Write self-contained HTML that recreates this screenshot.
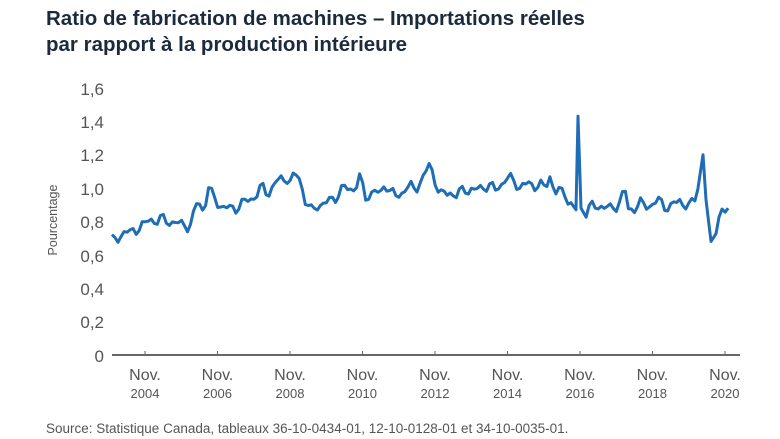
<!DOCTYPE html>
<html><head><meta charset="utf-8"><style>
body{margin:0;background:#fff;width:780px;height:439px;overflow:hidden;font-family:"Liberation Sans",sans-serif}
</style></head><body>
<svg width="780" height="439" xmlns="http://www.w3.org/2000/svg" style="position:absolute;left:0;top:0">
<text x="46" y="25" font-size="20.5" font-weight="bold" fill="#1c2a3d">Ratio de fabrication de machines – Importations réelles</text>
<text x="46" y="51" font-size="20.5" font-weight="bold" fill="#1c2a3d">par rapport à la production intérieure</text>
<g font-size="17" fill="#555" text-anchor="end">
<text x="104" y="95">1,6</text><text x="104" y="128">1,4</text><text x="104" y="161">1,2</text>
<text x="104" y="195">1,0</text><text x="104" y="228">0,8</text><text x="104" y="262">0,6</text>
<text x="104" y="295">0,4</text><text x="104" y="328">0,2</text><text x="104" y="362">0</text>
</g>
<text transform="translate(57,220) rotate(-90)" font-size="12.5" fill="#555" text-anchor="middle">Pourcentage</text>
<line x1="112" y1="355" x2="740" y2="355" stroke="#666" stroke-width="2"/>
<g id="ticks" stroke="#666" stroke-width="1"></g>
<g id="xl" fill="#555" text-anchor="middle"></g>
<polyline id="ln" fill="none" stroke="#1f6db5" stroke-width="3" stroke-linejoin="round"/>
<text x="46" y="433" font-size="13.5" fill="#555">Source: Statistique Canada, tableaux 36-10-0434-01, 12-10-0128-01 et 34-10-0035-01.</text>
</svg>
<script>
var yrs=[2004,2006,2008,2010,2012,2014,2016,2018,2020],t='',l='';
yrs.forEach(function(y,i){var x=145+i*72.5;t+='<line x1="'+x+'" y1="351" x2="'+x+'" y2="355"/>';
l+='<text x="'+x+'" y="380" font-size="16">Nov.</text><text x="'+x+'" y="398" font-size="13">'+y+'</text>';});
document.getElementById('ticks').innerHTML=t;document.getElementById('xl').innerHTML=l;
var k=[[112,.68],[118,.7],[125,.75],[130,.72],[138,.77],[145,.78],[150,.81],[160,.81],[170,.8],[175,.8],[180,.77],[185,.79],[190,.77],[195,.86],[198,.94],[201,.87],[205,.88],[207,1.03],[212,.95],[220,.9],[230,.87],[240,.9],[250,.93],[257,.97],[262,1.0],[268,.97],[275,1.03],[282,1.05],[287,1.07],[291,1.03],[295,1.08],[300,1.06],[305,.93],[312,.85],[318,.91],[325,.9],[335,.95],[345,1.0],[355,1.0],[360,1.06],[365,.95],[375,.98],[380,.95],[385,1.05],[390,.97],[398,.95],[405,1.0],[415,1.0],[422,1.05],[430,1.14],[435,1.06],[440,.95],[450,.98],[457,.95],[465,1.0],[475,.98],[485,1.02],[495,.99],[505,1.05],[515,1.05],[520,1.0],[530,1.03],[545,1.0],[550,1.08],[555,.97],[565,.98],[570,.9],[574,.88],[576,.87],[578,1.43],[581,.88],[585,.85],[590,.88],[600,.9],[610,.87],[620,.92],[625,.99],[628,.87],[640,.9],[650,.9],[660,.92],[670,.88],[680,.93],[690,.88],[695,.94],[700,1.08],[703,1.2],[706,.93],[709,.9],[711,.68],[720,.84],[725,.85],[731,.91]];
var spikes=[[576,.87],[578,1.43],[581,.88],[700,1.08],[703,1.2],[706,.93],[711,.68]];
var arr=[],i=0;
for(var x=112;x<=731;x+=3.02){
 if((x>573&&x<584)||(x>698&&x<713))continue;
 while(i<k.length-2&&k[i+1][0]<x)i++;var a=k[i],b=k[i+1];var f=(x-a[0])/(b[0]-a[0]);if(f>1)f=1;var v=a[1]+(b[1]-a[1])*f;
 v+=0.025*Math.sin(x*1.7)+0.018*Math.sin(x*0.63);arr.push([x,v]);}
arr=arr.concat(spikes);arr.sort(function(a,b){return a[0]-b[0]});
document.getElementById('ln').setAttribute('points',arr.map(function(p){return p[0].toFixed(1)+','+(355-p[1]*166.9).toFixed(1)}).join(' '));
</script>
</body></html>
